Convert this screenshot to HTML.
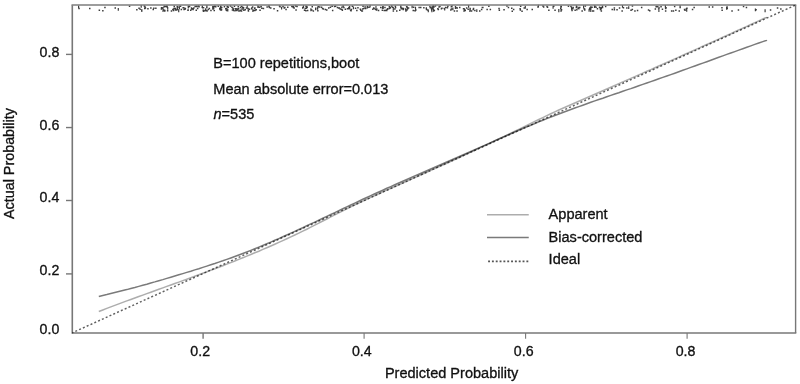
<!DOCTYPE html>
<html><head><meta charset="utf-8"><title>Calibration plot</title>
<style>
html,body{margin:0;padding:0;background:#fff;}
body{width:800px;height:384px;overflow:hidden;}
svg{display:block;}
text{font-family:"Liberation Sans",Arial,sans-serif;font-size:14.55px;fill:#111;stroke:#111;stroke-width:0.32px;}
.tk text,.tl{font-size:14.2px;}
</style></head><body>
<svg width="800" height="384" viewBox="0 0 800 384">
<rect width="800" height="384" fill="#fff"/>
<path d="M78.3 8.6h1.5M117.7 8.7h1.2M117.7 10.0h1.2M98.6 10.2h1.5M114.5 8.0h1.5M128.8 6.3h1.5M104.2 7.5h1.5M102.1 10.7h1.5M78.0 6.3h1.2M78.0 7.6h1.2M89.0 8.4h1.5M152.5 9.4h1.5M150.1 7.9h1.5M144.0 8.4h1.5M136.1 9.7h1.5M144.7 8.1h1.5M141.2 9.9h1.2M141.2 11.2h1.2M144.3 6.9h1.5M141.0 9.9h1.5M155.1 8.2h1.5M153.1 8.2h1.5M139.4 9.3h1.5M147.2 8.7h1.5M138.3 8.2h1.5M143.6 6.0h1.5M140.6 5.7h1.2M140.6 7.0h1.2M190.9 9.1h1.5M206.3 5.7h1.2M206.3 7.0h1.2M234.2 10.7h1.5M208.6 8.4h1.5M173.7 8.3h1.5M194.4 6.5h1.5M192.4 9.6h1.5M190.0 10.2h1.5M176.6 9.3h1.5M201.5 7.3h1.5M204.8 10.1h1.5M237.5 6.8h1.5M239.6 10.3h1.5M212.2 9.0h1.5M206.1 7.5h1.5M237.8 8.7h1.5M248.7 9.3h1.5M227.5 7.3h1.5M240.0 10.4h1.5M253.9 8.2h1.5M164.1 10.6h1.5M247.6 10.3h1.5M187.7 6.5h1.5M207.6 9.4h1.5M239.7 7.6h1.5M231.7 9.9h1.5M174.7 8.8h1.5M225.9 8.4h1.5M166.9 10.7h1.5M195.7 6.3h1.5M241.3 8.9h1.5M202.8 7.7h1.5M220.0 6.2h1.5M232.8 9.1h1.2M232.8 10.4h1.2M242.1 8.9h1.5M236.1 10.6h1.5M160.7 9.1h1.5M202.0 7.8h1.5M206.3 11.1h1.5M165.5 6.6h1.5M214.1 6.3h1.5M220.8 9.8h1.5M242.8 7.9h1.5M254.2 7.9h1.5M172.8 10.6h1.5M183.0 7.7h1.5M225.9 10.6h1.5M173.2 8.5h1.2M173.2 9.8h1.2M182.4 7.7h1.5M217.5 6.3h1.5M177.0 7.3h1.5M238.2 11.0h1.5M245.7 8.1h1.5M163.4 6.8h1.5M213.3 6.7h1.2M213.3 8.0h1.2M239.7 10.7h1.5M257.5 6.9h1.5M187.4 10.0h1.5M176.9 6.7h1.5M247.7 11.0h1.5M250.9 8.8h1.5M179.8 6.2h1.5M204.2 10.8h1.5M231.9 7.9h1.5M244.5 9.8h1.5M176.8 7.9h1.2M176.8 9.2h1.2M226.5 6.5h1.5M240.8 6.6h1.5M215.0 6.8h1.5M176.5 6.8h1.5M163.6 6.3h1.5M188.2 6.2h1.5M240.8 10.9h1.5M164.5 6.5h1.5M160.8 7.8h1.2M160.8 9.1h1.2M196.2 6.6h1.5M166.4 7.1h1.5M174.9 10.0h1.5M162.3 10.9h1.5M212.5 8.4h1.5M229.7 6.0h1.5M202.7 11.2h1.5M173.5 6.2h1.5M193.1 8.0h1.5M219.0 8.8h1.5M254.1 10.6h1.5M259.3 10.3h1.5M184.2 9.2h1.5M161.1 8.1h1.5M243.1 10.3h1.5M252.7 10.5h1.5M205.9 10.5h1.5M237.1 9.7h1.5M246.6 5.7h1.2M246.6 7.0h1.2M221.0 7.6h1.5M247.3 8.5h1.5M162.4 7.8h1.2M162.4 9.1h1.2M187.2 10.3h1.5M187.7 6.4h1.2M187.7 7.7h1.2M172.1 9.5h1.5M251.1 7.9h1.5M163.0 10.0h1.5M227.3 7.0h1.5M167.1 7.7h1.2M167.1 9.0h1.2M196.1 6.5h1.5M201.8 6.3h1.2M201.8 7.6h1.2M178.1 10.1h1.2M178.1 11.4h1.2M212.1 6.8h1.2M212.1 8.1h1.2M213.5 10.6h1.5M191.7 8.7h1.5M233.7 6.2h1.5M176.0 10.1h1.5M179.3 6.3h1.5M195.5 10.3h1.5M197.8 6.0h1.5M180.6 9.5h1.5M251.9 6.9h1.5M242.8 7.8h1.5M170.7 11.0h1.5M196.9 8.5h1.5M183.3 9.4h1.5M205.1 9.1h1.2M205.1 10.4h1.2M187.6 6.6h1.5M210.2 10.4h1.5M252.3 10.0h1.2M252.3 11.3h1.2M198.3 6.8h1.5M225.0 8.8h1.5M219.6 7.5h1.5M235.2 9.9h1.5M166.2 6.1h1.5M234.5 8.7h1.5M254.6 10.1h1.5M220.4 9.0h1.2M220.4 10.3h1.2M188.8 6.6h1.5M227.2 9.5h1.2M227.2 10.8h1.2M231.2 7.2h1.5M225.6 10.2h1.5M174.7 8.6h1.5M257.3 6.0h1.2M257.3 7.3h1.2M255.5 9.8h1.5M202.5 10.2h1.5M219.4 9.6h1.5M164.0 11.0h1.5M258.9 7.3h1.5M241.9 7.2h1.5M223.7 6.8h1.5M236.1 8.8h1.5M178.8 7.3h1.2M178.8 8.6h1.2M190.8 7.9h1.5M184.6 8.4h1.5M260.4 6.4h1.5M295.3 10.0h1.5M294.9 6.1h1.5M279.3 6.7h1.5M282.3 6.6h1.5M284.1 7.5h1.5M293.4 8.0h1.5M276.8 10.7h1.5M281.0 7.5h1.2M281.0 8.8h1.2M268.2 6.6h1.5M268.7 7.4h1.5M278.8 6.0h1.5M268.3 6.1h1.5M261.1 8.2h1.5M273.3 8.7h1.5M287.0 7.3h1.5M270.0 8.0h1.5M291.1 6.5h1.5M285.3 9.4h1.5M283.5 8.0h1.5M292.1 6.8h1.5M262.7 8.6h1.5M266.4 7.1h1.5M292.7 7.5h1.5M292.7 6.6h1.5M296.3 6.4h1.5M348.0 8.1h1.5M315.0 8.2h1.2M315.0 9.5h1.2M329.7 7.3h1.5M331.9 10.6h1.5M350.6 9.6h1.5M311.5 6.8h1.5M302.9 6.0h1.2M302.9 7.3h1.2M331.4 6.3h1.5M322.6 9.0h1.5M318.9 7.0h1.5M346.8 8.8h1.5M341.6 10.3h1.5M306.9 10.6h1.5M333.8 6.6h1.5M348.3 7.7h1.5M354.8 8.2h1.5M302.0 8.0h1.5M348.8 8.2h1.5M304.5 8.4h1.5M341.6 9.9h1.5M336.7 7.6h1.5M357.2 7.8h1.5M338.6 8.0h1.5M306.1 6.8h1.5M340.9 9.3h1.5M316.8 8.1h1.5M350.3 10.8h1.5M303.8 10.3h1.5M320.8 7.2h1.5M341.2 7.3h1.5M311.0 10.1h1.5M339.5 8.9h1.5M342.4 6.1h1.5M344.6 9.3h1.5M352.8 7.3h1.2M352.8 8.6h1.2M326.0 10.1h1.5M310.3 9.1h1.2M310.3 10.4h1.2M317.1 10.8h1.5M324.6 9.6h1.5M305.2 10.7h1.5M343.1 7.5h1.5M305.7 7.0h1.2M305.7 8.3h1.2M305.3 6.3h1.5M356.1 10.5h1.5M348.8 6.8h1.5M316.7 8.9h1.5M321.8 8.6h1.5M349.9 10.2h1.5M337.9 8.0h1.5M317.4 6.7h1.5M328.0 8.0h1.5M351.6 6.2h1.5M302.0 7.6h1.5M359.6 9.3h1.5M334.8 6.3h1.5M312.6 11.1h1.5M348.4 8.8h1.5M306.4 7.6h1.5M364.9 8.4h1.5M377.8 10.4h1.5M375.2 7.0h1.5M375.1 9.5h1.5M366.6 6.4h1.2M366.6 7.7h1.2M381.8 8.0h1.5M383.5 10.5h1.5M382.3 8.2h1.5M386.0 10.6h1.5M376.0 9.1h1.5M389.8 7.5h1.5M380.0 7.4h1.5M390.9 6.0h1.5M374.4 9.0h1.5M384.5 10.4h1.5M366.9 6.4h1.2M366.9 7.7h1.2M362.9 8.5h1.5M392.6 11.1h1.5M373.0 8.0h1.5M361.6 10.9h1.5M381.6 10.3h1.5M392.7 7.8h1.2M392.7 9.1h1.2M386.9 9.3h1.5M394.6 6.3h1.5M392.7 7.9h1.2M392.7 9.2h1.2M375.9 10.0h1.5M368.2 7.2h1.5M362.3 6.3h1.5M369.5 5.4h1.2M369.5 6.7h1.2M382.1 6.8h1.5M391.9 7.2h1.5M360.1 10.2h1.5M388.6 8.4h1.5M386.8 8.8h1.5M384.2 7.6h1.5M364.5 6.8h1.2M364.5 8.1h1.2M361.9 8.9h1.5M385.8 9.9h1.5M382.4 6.9h1.5M372.9 8.3h1.5M372.1 9.3h1.5M361.1 11.0h1.5M394.8 7.4h1.5M389.3 8.0h1.5M394.1 9.0h1.5M388.6 6.7h1.5M415.1 9.9h1.5M412.9 7.2h1.5M400.3 6.1h1.2M400.3 7.4h1.2M404.9 9.0h1.5M414.5 10.8h1.5M406.5 7.3h1.5M400.6 8.8h1.5M418.4 7.4h1.5M406.2 9.9h1.5M402.7 8.4h1.5M407.8 8.0h1.5M402.5 9.4h1.5M401.8 8.8h1.5M411.5 6.2h1.2M411.5 7.5h1.2M414.9 7.4h1.2M414.9 8.7h1.2M405.2 11.0h1.5M399.0 10.2h1.5M406.9 8.7h1.5M405.0 9.4h1.5M405.9 6.7h1.5M401.0 8.1h1.5M414.2 10.7h1.5M400.1 6.2h1.2M400.1 7.5h1.2M396.0 11.1h1.5M412.5 10.4h1.5M420.0 7.5h1.5M423.1 7.8h1.5M427.7 10.3h1.2M427.7 11.6h1.2M459.0 7.6h1.5M425.6 8.6h1.5M469.3 10.0h1.2M469.3 11.3h1.2M454.8 6.8h1.2M454.8 8.1h1.2M456.5 7.9h1.5M425.8 8.1h1.2M425.8 9.4h1.2M429.2 6.4h1.5M451.3 6.1h1.5M444.1 8.5h1.2M444.1 9.8h1.2M465.9 7.9h1.5M439.2 6.4h1.5M445.0 7.5h1.5M431.0 8.8h1.2M431.0 10.1h1.2M450.1 9.9h1.5M472.8 8.6h1.5M438.3 7.1h1.5M464.5 10.4h1.5M433.2 7.1h1.5M469.3 9.9h1.5M450.6 6.8h1.5M431.3 10.1h1.2M431.3 11.4h1.2M464.1 10.0h1.5M469.4 8.6h1.5M432.3 8.3h1.5M430.9 8.2h1.2M430.9 9.5h1.2M437.6 9.4h1.5M450.7 8.9h1.5M472.5 9.6h1.5M468.0 5.7h1.2M468.0 7.0h1.2M441.2 8.2h1.5M426.9 9.9h1.5M454.8 8.3h1.5M453.7 11.0h1.5M437.1 8.8h1.5M455.2 7.6h1.5M474.1 10.6h1.5M432.2 7.4h1.2M432.2 8.7h1.2M440.7 8.8h1.5M467.4 9.3h1.5M433.0 9.7h1.2M433.0 11.0h1.2M431.4 7.1h1.5M433.6 10.5h1.5M463.5 9.0h1.5M431.4 7.9h1.5M429.6 7.7h1.5M456.3 11.1h1.5M463.3 10.9h1.5M462.8 8.8h1.5M446.7 7.8h1.5M470.8 11.1h1.5M432.5 6.1h1.5M447.1 6.3h1.5M443.5 8.5h1.5M452.3 8.3h1.2M452.3 9.6h1.2M434.7 6.0h1.5M432.4 7.0h1.5M481.6 7.4h1.5M519.9 6.3h1.5M476.2 9.9h1.2M476.2 11.2h1.2M482.1 7.5h1.5M511.5 11.2h1.5M506.2 6.0h1.5M498.6 10.2h1.5M519.4 8.7h1.5M488.1 6.2h1.5M486.4 9.4h1.5M503.3 9.7h1.5M480.9 9.6h1.5M512.9 9.6h1.5M526.4 9.5h1.5M519.6 10.0h1.5M523.5 8.0h1.5M479.0 11.0h1.5M498.3 8.5h1.5M524.7 6.6h1.2M524.7 7.9h1.2M521.3 11.2h1.5M507.7 7.5h1.5M511.0 8.3h1.5M489.6 9.6h1.5M537.2 7.1h1.5M542.2 6.1h1.5M542.9 6.9h1.5M537.8 5.5h1.2M537.8 6.8h1.2M531.5 9.6h1.5M560.3 11.1h1.5M558.2 10.1h1.2M558.2 11.4h1.2M548.1 10.3h1.5M567.7 6.3h1.5M560.5 6.4h1.5M560.2 7.1h1.5M554.3 10.3h1.5M560.2 6.3h1.2M560.2 7.6h1.2M546.8 7.2h1.5M552.5 6.6h1.2M552.5 7.9h1.2M560.8 9.8h1.5M560.0 8.7h1.5M558.2 9.7h1.2M558.2 11.0h1.2M546.3 6.4h1.5M553.0 6.3h1.5M572.4 7.6h1.5M575.8 6.1h1.2M575.8 7.4h1.2M589.0 8.5h1.5M600.5 7.8h1.5M579.0 7.4h1.5M584.0 9.2h1.5M589.9 7.3h1.5M592.8 11.1h1.5M595.3 7.3h1.5M581.4 11.1h1.5M583.0 6.0h1.2M583.0 7.3h1.2M600.6 10.9h1.5M601.7 6.3h1.5M584.6 6.0h1.5M604.9 6.5h1.5M576.1 9.7h1.5M598.8 7.2h1.5M601.8 7.4h1.5M589.8 9.5h1.5M594.2 6.2h1.5M572.1 8.8h1.5M599.5 8.1h1.5M593.9 6.0h1.2M593.9 7.3h1.2M590.2 9.9h1.2M590.2 11.2h1.2M590.3 7.1h1.2M590.3 8.4h1.2M575.6 7.5h1.5M599.7 9.6h1.5M588.5 9.6h1.2M588.5 10.9h1.2M591.3 7.2h1.5M576.0 6.7h1.5M592.0 11.0h1.5M578.3 7.4h1.2M578.3 8.7h1.2M596.7 8.8h1.5M571.0 7.6h1.2M571.0 8.9h1.2M574.4 10.3h1.5M577.4 8.2h1.5M584.0 9.9h1.5M600.5 8.7h1.5M570.2 6.4h1.5M589.5 7.8h1.2M589.5 9.1h1.2M571.3 10.4h1.5M583.3 8.8h1.5M611.5 9.5h1.5M670.9 11.1h1.5M665.3 7.7h1.5M621.9 5.7h1.2M621.9 7.0h1.2M649.0 10.8h1.5M664.8 5.7h1.2M664.8 7.0h1.2M664.9 8.5h1.5M675.1 10.3h1.5M640.9 7.4h1.5M613.6 9.7h1.5M661.7 9.3h1.5M631.6 9.6h1.5M656.9 6.8h1.5M616.3 9.7h1.5M636.8 10.4h1.5M655.4 6.7h1.5M621.4 11.0h1.5M634.2 10.9h1.5M622.7 7.7h1.5M672.7 11.0h1.5M664.9 10.9h1.5M655.8 6.6h1.5M647.8 9.9h1.5M678.5 11.0h1.5M630.3 10.3h1.5M660.3 6.7h1.5M618.8 8.1h1.5M654.6 8.9h1.5M626.1 7.9h1.5M613.6 8.0h1.5M673.9 6.5h1.5M631.7 6.0h1.5M679.4 7.6h1.5M658.5 7.4h1.2M658.5 8.7h1.2M657.9 9.0h1.5M658.1 11.0h1.5M679.5 5.7h1.2M679.5 7.0h1.2M628.1 7.0h1.2M628.1 8.3h1.2M769.8 10.0h1.5M711.9 7.1h1.5M685.7 8.7h1.5M726.0 7.8h1.2M726.0 9.1h1.2M742.8 6.5h1.5M721.4 10.2h1.5M691.8 9.6h1.5M726.3 7.0h1.5M686.2 8.2h1.5M745.7 7.6h1.5M764.5 10.1h1.2M764.5 11.4h1.2M683.8 9.5h1.5M731.3 10.9h1.5M754.8 9.2h1.2M754.8 10.5h1.2M737.7 10.1h1.5M693.4 7.6h1.5M686.1 9.6h1.2M686.1 10.9h1.2M721.2 7.7h1.5M684.3 10.3h1.5M755.3 9.7h1.5M726.5 8.6h1.5M708.5 6.9h1.5M780.1 9.1h1.5M776.8 8.1h1.5" stroke="#3c3c3c" stroke-width="1.5" fill="none"/>
<g stroke="#777" fill="none">
<line x1="71.5" x2="796.3000000000001" y1="5.0" y2="5.0" stroke="#7c7c7c" stroke-width="1.4"/>
<line x1="72.3" x2="72.3" y1="5.25" y2="333.8" stroke-width="1.6"/>
<line x1="72.3" x2="796.3000000000001" y1="333.0" y2="333.0" stroke-width="1.6"/>
<line x1="795.6" x2="795.6" y1="5.25" y2="333.0" stroke-width="1.4"/>
</g>
<g stroke="#777" stroke-width="1.4">
<line x1="66" x2="72" y1="54.4" y2="54.4"/>
<line x1="66" x2="72" y1="127.55" y2="127.55"/>
<line x1="66" x2="72" y1="200.5" y2="200.5"/>
<line x1="66" x2="72" y1="273.9" y2="273.9"/>
<line x1="203.1" x2="203.1" y1="333" y2="338.75"/>
<line x1="364.1" x2="364.1" y1="333" y2="338.75" stroke-width="1.1"/>
<line x1="525.6" x2="525.6" y1="333" y2="338.75" stroke-width="1.1"/>
<line x1="687.1" x2="687.1" y1="333" y2="338.75" stroke-width="1.1"/>
</g>
<polyline style="mix-blend-mode:multiply" stroke-linejoin="round" points="98.8,311.5 102.8,310.0 106.8,308.4 110.8,306.9 114.8,305.4 118.8,303.9 122.8,302.4 126.8,300.9 130.8,299.5 134.8,298.0 138.8,296.5 142.8,295.1 146.8,293.6 150.8,292.2 154.8,290.7 158.8,289.3 162.8,287.9 166.8,286.4 170.8,285.0 174.8,283.5 178.8,282.1 182.8,280.6 186.8,279.2 190.8,277.7 194.8,276.2 198.8,274.7 202.8,273.3 206.8,271.8 210.8,270.3 214.8,268.7 218.8,267.2 222.8,265.7 226.8,264.1 230.8,262.6 234.8,261.0 238.8,259.4 242.8,257.8 246.8,256.1 250.8,254.5 254.8,252.8 258.8,251.2 262.8,249.4 266.8,247.7 270.8,246.0 274.8,244.2 278.8,242.4 282.8,240.6 286.8,238.8 290.8,236.9 294.8,235.0 298.8,233.1 302.8,231.1 306.8,229.2 310.8,227.2 314.8,225.1 318.8,223.1 322.8,221.0 326.8,219.0 330.8,216.9 334.8,214.9 338.8,212.8 342.8,210.8 346.8,208.8 350.8,206.8 354.8,204.9 358.8,203.0 362.8,201.1 366.8,199.2 370.8,197.4 374.8,195.5 378.8,193.7 382.8,191.9 386.8,190.1 390.8,188.3 394.8,186.5 398.8,184.7 402.8,183.0 406.8,181.2 410.8,179.4 414.8,177.6 418.8,175.8 422.8,174.0 426.8,172.2 430.8,170.4 434.8,168.6 438.8,166.8 442.8,165.0 446.8,163.2 450.8,161.3 454.8,159.5 458.8,157.7 462.8,155.8 466.8,154.0 470.8,152.1 474.8,150.3 478.8,148.4 482.8,146.5 486.8,144.7 490.8,142.8 494.8,140.9 498.8,139.0 502.8,137.1 506.8,135.1 510.8,133.2 514.8,131.3 518.8,129.3 522.8,127.3 526.8,125.4 530.8,123.4 534.8,121.4 538.8,119.5 542.8,117.6 546.8,115.6 550.8,113.7 554.8,111.9 558.8,110.0 562.8,108.2 566.8,106.5 570.8,104.7 574.8,103.0 578.8,101.2 582.8,99.5 586.8,97.7 590.8,96.0 594.8,94.2 598.8,92.5 602.8,90.7 606.8,89.0 610.8,87.2 614.8,85.4 618.8,83.7 622.8,81.9 626.8,80.2 630.8,78.4 634.8,76.6 638.8,74.9 642.8,73.1 646.8,71.3 650.8,69.6 654.8,67.8 658.8,66.0 662.8,64.2 666.8,62.5 670.8,60.7 674.8,58.9 678.8,57.1 682.8,55.3 686.8,53.5 690.8,51.7 694.8,49.9 698.8,48.1 702.8,46.3 706.8,44.5 710.8,42.7 714.8,40.9 718.8,39.1 722.8,37.3 726.8,35.5 730.8,33.7 734.8,31.8 738.8,30.0 742.8,28.2 746.8,26.4 750.8,24.5 754.8,22.7 758.8,20.9 762.8,19.0 766.8,17.2 767.0,17.1" fill="none" stroke="#adadad" stroke-width="1.5"/>
<polyline style="mix-blend-mode:multiply" stroke-linejoin="round" points="98.8,296.4 102.8,295.5 106.8,294.6 110.8,293.6 114.8,292.6 118.8,291.6 122.8,290.6 126.8,289.6 130.8,288.5 134.8,287.5 138.8,286.4 142.8,285.3 146.8,284.2 150.8,283.0 154.8,281.9 158.8,280.7 162.8,279.6 166.8,278.4 170.8,277.2 174.8,276.0 178.8,274.8 182.8,273.6 186.8,272.4 190.8,271.2 194.8,269.9 198.8,268.7 202.8,267.4 206.8,266.1 210.8,264.8 214.8,263.5 218.8,262.1 222.8,260.8 226.8,259.4 230.8,258.0 234.8,256.5 238.8,255.0 242.8,253.5 246.8,252.0 250.8,250.4 254.8,248.8 258.8,247.1 262.8,245.5 266.8,243.8 270.8,242.1 274.8,240.3 278.8,238.6 282.8,236.8 286.8,235.0 290.8,233.2 294.8,231.4 298.8,229.5 302.8,227.7 306.8,225.8 310.8,223.9 314.8,222.1 318.8,220.2 322.8,218.3 326.8,216.4 330.8,214.5 334.8,212.6 338.8,210.7 342.8,208.8 346.8,206.9 350.8,205.0 354.8,203.1 358.8,201.2 362.8,199.3 366.8,197.5 370.8,195.6 374.8,193.8 378.8,192.0 382.8,190.2 386.8,188.3 390.8,186.6 394.8,184.8 398.8,183.0 402.8,181.2 406.8,179.5 410.8,177.7 414.8,175.9 418.8,174.2 422.8,172.5 426.8,170.7 430.8,169.0 434.8,167.2 438.8,165.5 442.8,163.7 446.8,162.0 450.8,160.3 454.8,158.5 458.8,156.8 462.8,155.0 466.8,153.2 470.8,151.5 474.8,149.7 478.8,147.9 482.8,146.1 486.8,144.4 490.8,142.6 494.8,140.8 498.8,139.0 502.8,137.3 506.8,135.5 510.8,133.7 514.8,132.0 518.8,130.3 522.8,128.5 526.8,126.8 530.8,125.2 534.8,123.5 538.8,121.8 542.8,120.2 546.8,118.6 550.8,117.0 554.8,115.5 558.8,114.0 562.8,112.5 566.8,111.0 570.8,109.5 574.8,108.0 578.8,106.6 582.8,105.2 586.8,103.7 590.8,102.3 594.8,100.9 598.8,99.5 602.8,98.2 606.8,96.8 610.8,95.4 614.8,94.0 618.8,92.7 622.8,91.3 626.8,89.9 630.8,88.6 634.8,87.2 638.8,85.8 642.8,84.4 646.8,83.0 650.8,81.6 654.8,80.2 658.8,78.8 662.8,77.4 666.8,76.0 670.8,74.6 674.8,73.2 678.8,71.7 682.8,70.3 686.8,68.9 690.8,67.4 694.8,66.0 698.8,64.5 702.8,63.1 706.8,61.7 710.8,60.2 714.8,58.8 718.8,57.3 722.8,55.9 726.8,54.4 730.8,53.0 734.8,51.6 738.8,50.1 742.8,48.7 746.8,47.3 750.8,45.9 754.8,44.4 758.8,43.0 762.8,41.6 766.8,40.2 767.0,40.1" fill="none" stroke="#7a7a7a" stroke-width="1.5"/>
<line style="mix-blend-mode:multiply" x1="72.3" y1="332.8" x2="795.6" y2="5.05" stroke="#606060" stroke-width="1.45" stroke-dasharray="2.0 2.17" stroke-dashoffset="0.86"/>
<g text-anchor="end" class="tk">
<text x="59.3" y="57.2">0.8</text>
<text x="59.3" y="130.0">0.6</text>
<text x="59.3" y="202.4">0.4</text>
<text x="59.3" y="275.3">0.2</text>
<text x="59.3" y="333.8">0.0</text>
</g>
<g text-anchor="middle">
<text class="tl" x="200.2" y="355.8">0.2</text>
<text class="tl" x="361.8" y="355.8">0.4</text>
<text class="tl" x="523.7" y="355.8">0.6</text>
<text class="tl" x="685.5" y="355.8">0.8</text>
<text x="451.6" y="378.4">Predicted Probability</text>
<text style="font-size:14.35px" transform="translate(13.8 163.6) rotate(-90)">Actual Probability</text>
</g>
<text x="213.3" y="67.8">B=100 repetitions,boot</text>
<text x="213.3" y="93.7">Mean absolute error=0.013</text>
<text x="213.5" y="119.0"><tspan font-style="italic">n</tspan>=535</text>
<line x1="487" x2="528.75" y1="214.75" y2="214.75" stroke="#adadad" stroke-width="1.5"/>
<line x1="487" x2="528.75" y1="237.5" y2="237.5" stroke="#7a7a7a" stroke-width="1.5"/>
<line x1="488.1" x2="529.5" y1="261.4" y2="261.4" stroke="#555" stroke-width="1.7" stroke-dasharray="1.9 1.93"/>
<text x="548.6" y="219">Apparent</text>
<text x="548.6" y="241.75">Bias-corrected</text>
<text x="548.6" y="264">Ideal</text>
</svg>
</body></html>
